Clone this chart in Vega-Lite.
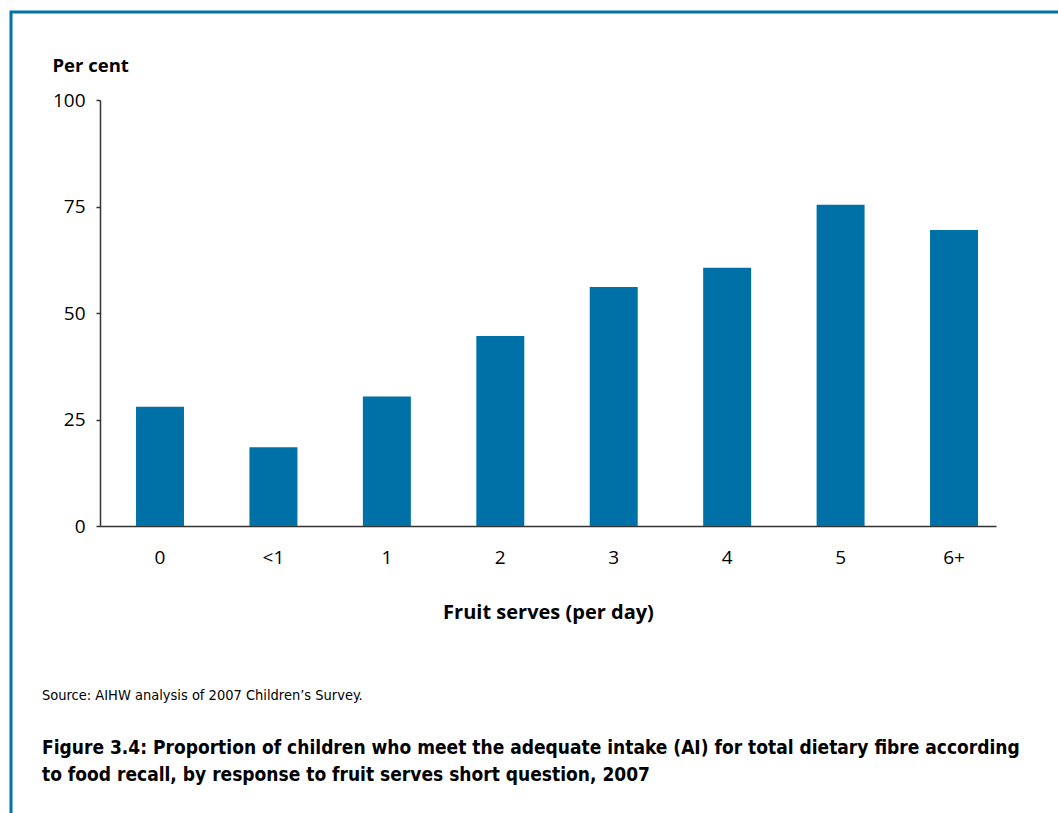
{
  "$schema": "https://vega.github.io/schema/vega-lite/v6.json",
  "width": 1100,
  "height": 850,
  "autosize": "none",
  "padding": {"left": 11, "top": 12, "right": 0, "bottom": 0},
  "background": "white",
  "config": {"view": {"stroke": "#0072a8", "strokeWidth": 3, "fill": "white"}},
  "data": {"values": [
    {"serves": "0", "pct": 28.0},
    {"serves": "<1", "pct": 18.5},
    {"serves": "1", "pct": 30.4},
    {"serves": "2", "pct": 44.6},
    {"serves": "3", "pct": 56.1},
    {"serves": "4", "pct": 60.6},
    {"serves": "5", "pct": 75.4},
    {"serves": "6+", "pct": 69.5}
  ]},
  "title": {
    "text": "Source: AIHW analysis of 2007 Children’s Survey.",
    "subtitle": ["Figure 3.4: Proportion of children who meet the adequate intake (AI) for total dietary fibre according", "to food recall, by response to fruit serves short question, 2007"],
    "orient": "top",
    "anchor": "start",
    "frame": "group",
    "offset": -774,
    "dx": 31,
    "font": "DejaVu Sans Condensed",
    "fontSize": 14.5,
    "fontWeight": "normal",
    "color": "#000000",
    "subtitleFont": "DejaVu Sans Condensed",
    "subtitleFontSize": 19,
    "subtitleFontWeight": "bold",
    "subtitleColor": "#000000",
    "subtitlePadding": 36,
    "subtitleLineHeight": 27
  },
  "mark": {"type": "bar", "color": "#0071a7"},
  "encoding": {
    "x": {
      "field": "serves",
      "type": "nominal",
      "sort": null,
      "scale": {"range": [89, 985], "paddingInner": 0.577, "paddingOuter": 0.238, "align": 0.667},
      "axis": {
        "orient": "bottom",
        "offset": -336,
        "ticks": false,
        "domainColor": "#333333",
        "domainWidth": 1.5,
        "labelAngle": 0,
        "labelPadding": 22,
        "labelFont": "Open Sans",
        "labelFontSize": 19,
        "labelColor": "#000000",
        "title": "Fruit serves (per day)",
        "titleFont": "Open Sans",
        "titleFontSize": 20,
        "titleFontWeight": "bold",
        "titleColor": "#000000",
        "titlePadding": 35
      }
    },
    "y": {
      "field": "pct",
      "type": "quantitative",
      "scale": {"domain": [0, 100], "range": [514, 88], "nice": false},
      "axis": {
        "orient": "left",
        "offset": -89,
        "values": [0, 25, 50, 75, 100],
        "grid": false,
        "tickSize": 4,
        "tickColor": "#333333",
        "tickWidth": 1.5,
        "domainColor": "#333333",
        "domainWidth": 1.5,
        "labelPadding": 11,
        "labelFont": "Open Sans",
        "labelFontSize": 19,
        "labelColor": "#000000",
        "title": "Per cent",
        "titleAngle": 0,
        "titleAlign": "left",
        "titleBaseline": "alphabetic",
        "titleX": -48,
        "titleY": 59,
        "titleFont": "Open Sans",
        "titleFontSize": 18.5,
        "titleFontWeight": "bold",
        "titleColor": "#000000"
      }
    }
  }
}
